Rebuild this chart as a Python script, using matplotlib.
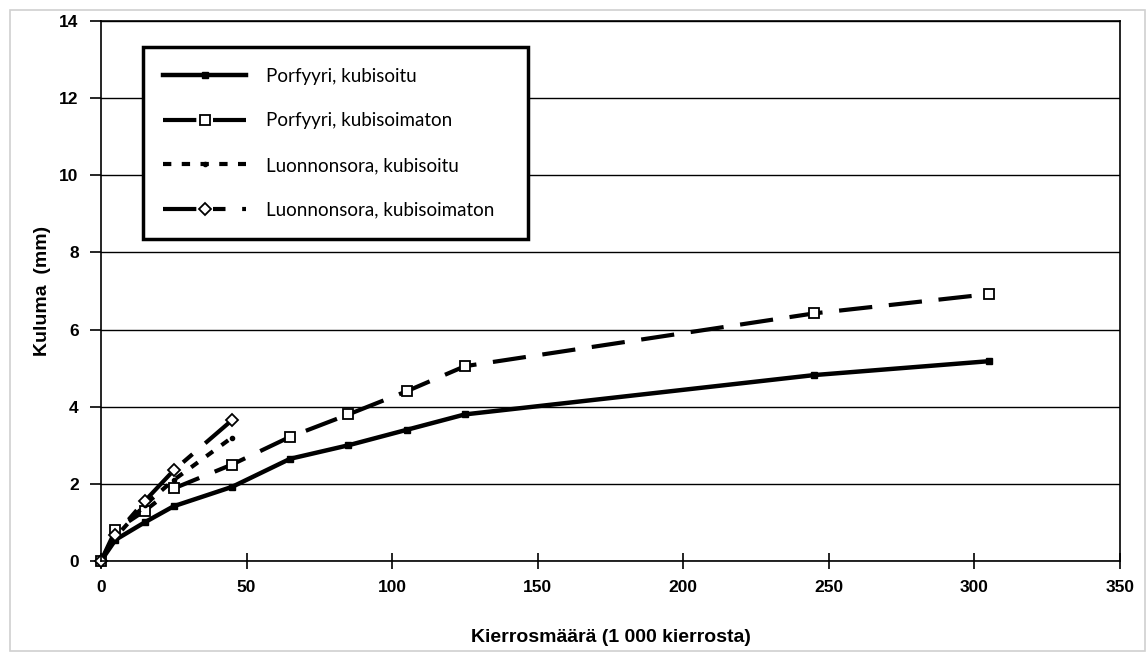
import matplotlib.pyplot as plt
from matplotlib.patches import Rectangle

# Kierrosmäärä (1 000 kierrosta)
x_porfyyri = [0, 5, 15, 25, 45, 65, 85, 105, 125, 245, 305]
x_sora = [0, 5, 15, 25, 45]

# Kuluma (mm)
porfyyri_kubisoitu = [0, 0.55, 1.0, 1.42, 1.92, 2.65, 3.0, 3.4, 3.8, 4.82, 5.18]
porfyyri_kubisoimaton = [0, 0.8, 1.3, 1.88, 2.5, 3.22, 3.8, 4.4, 5.05, 6.42, 6.92]
sora_kubisoitu = [0, 0.62, 1.45, 2.1, 3.2]
sora_kubisoimaton = [0, 0.68, 1.55, 2.35, 3.65]

labels = [
    "Porfyyri, kubisoitu",
    "Porfyyri, kubisoimaton",
    "Luonnonsora, kubisoitu",
    "Luonnonsora, kubisoimaton",
]

plt.rcParams['font.family'] = ['Liberation Sans', 'DejaVu Sans']

fig = plt.figure(figsize=(11.47, 6.62), dpi=100)
ax = fig.add_axes([0.088, 0.1526, 0.8885, 0.8157])

# thin grey frame around the whole figure
fig.patches.append(Rectangle((0.009, 0.016), 0.989, 0.969, transform=fig.transFigure,
                             fill=False, edgecolor='#d0d0d0', linewidth=1.2))

ax.plot(x_porfyyri, porfyyri_kubisoitu, color='black', linestyle='-', linewidth=3.2,
        marker='s', markersize=5, markerfacecolor='black', label=labels[0], clip_on=False)
ax.plot(x_porfyyri, porfyyri_kubisoimaton, color='black', linestyle=(0, (8, 4)), linewidth=3.0,
        marker='s', markersize=7, markerfacecolor='white', markeredgewidth=1.3, label=labels[1],
        clip_on=False)
ax.plot(x_sora, sora_kubisoitu, color='black', linestyle=(0, (2, 2.5)), linewidth=3.0,
        marker='o', markersize=3, markerfacecolor='black', label=labels[2], clip_on=False)
ax.plot(x_sora, sora_kubisoimaton, color='black', linestyle=(0, (8, 4, 3, 4)), linewidth=3.0,
        marker='D', markersize=6, markerfacecolor='white', markeredgewidth=1.3, label=labels[3],
        clip_on=False)

ax.set_xlim(0, 350)
ax.set_ylim(0, 14)
ax.set_xticks(range(0, 351, 50))
ax.set_yticks(range(0, 15, 2))

ax.yaxis.grid(True, color='black', linewidth=1.0)
ax.set_axisbelow(True)
for spine in ax.spines.values():
    spine.set_linewidth(1.2)
    spine.set_color('black')

ax.tick_params(axis='x', direction='inout', length=12, width=1.2, pad=8)
ax.tick_params(axis='y', direction='out', length=8, width=1.2, pad=8)
for lab in ax.get_xticklabels() + ax.get_yticklabels():
    lab.set_fontsize(12.5)
    lab.set_fontweight('bold')

ax.set_xlabel("Kierrosmäärä (1 000 kierrosta)", fontsize=14, fontweight='bold', labelpad=24)
ax.set_ylabel("Kuluma  (mm)", fontsize=14, fontweight='bold', labelpad=6)

leg = ax.legend(loc='upper left', bbox_to_anchor=(0.041, 0.952, 0.378, 0), mode='expand',
                prop={'family': 'Lato', 'size': 13.5}, frameon=True, fancybox=False,
                edgecolor='black', framealpha=1, borderpad=1.1, labelspacing=1.48,
                handlelength=4.4, handletextpad=1.1, borderaxespad=0)
leg.get_frame().set_linewidth(2.5)
leg.set_zorder(5)

fig.savefig("out.png", dpi=100)
